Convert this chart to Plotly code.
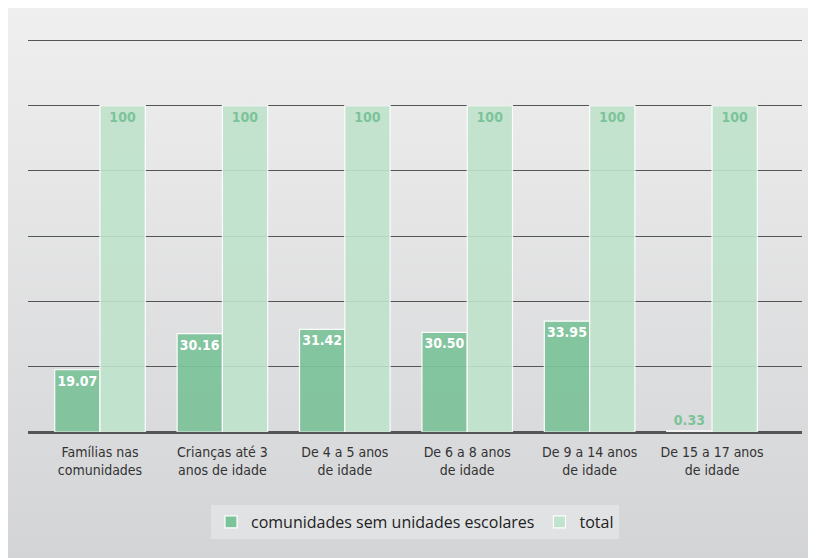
import base64
import plotly.graph_objects as go

categories = [
    "Famílias nas<br>comunidades",
    "Crianças até 3<br>anos de idade",
    "De 4 a 5 anos<br>de idade",
    "De 6 a 8 anos<br>de idade",
    "De 9 a 14 anos<br>de idade",
    "De 15 a 17 anos<br>de idade",
]
sem_escolas = [19.07, 30.16, 31.42, 30.50, 33.95, 0.33]
total = [100, 100, 100, 100, 100, 100]
series_names = ["comunidades sem unidades escolares", "total"]

DARK = "#7cc39a"
LIGHT = "#bfe3cc"
NUM_FONT = "DejaVu Sans Condensed, DejaVu Sans, sans-serif"
TICK_FONT = "DejaVu Sans Condensed, DejaVu Sans, sans-serif"

W, H = 816, 558
ML, MR, MT, MB = 20, 22, 29, 134
pw, ph = W - ML - MR, H - MT - MB

pos_green = ["inside" if v > 5 else "outside" for v in sem_escolas]
col_green = ["white" if v > 5 else DARK for v in sem_escolas]

num_font = dict(family=NUM_FONT, size=14, weight="bold")

fig = go.Figure()
fig.add_trace(go.Bar(
    x=categories, y=sem_escolas, name=series_names[0],
    marker=dict(color=DARK, opacity=0.92, line=dict(color="white", width=1.2)),
    texttemplate="%{y:.2f}", textposition=pos_green, insidetextanchor="end", textangle=0,
    textfont=dict(num_font, color=col_green),
    constraintext="none", cliponaxis=False,
))
fig.add_trace(go.Bar(
    x=categories, y=total, name=series_names[1],
    marker=dict(color=LIGHT, opacity=0.9, line=dict(color="white", width=1.2)),
    texttemplate="%{y}", textposition="inside", insidetextanchor="end", textangle=0,
    textfont=dict(num_font, color=DARK),
    constraintext="none", cliponaxis=False,
))

svg = (
    '<svg xmlns="http://www.w3.org/2000/svg" width="100" height="100" preserveAspectRatio="none">'
    '<defs><linearGradient id="g" x1="0" y1="0" x2="0" y2="1">'
    '<stop offset="0" stop-color="#efefef"/><stop offset="1" stop-color="#d3d4d6"/>'
    '</linearGradient></defs><rect width="100" height="100" fill="url(#g)"/></svg>'
)
uri = "data:image/svg+xml;base64," + base64.b64encode(svg.encode()).decode()

fig.update_layout(
    width=W, height=H,
    margin=dict(l=ML, r=MR, t=MT, b=MB),
    paper_bgcolor="#dcdcde", plot_bgcolor="rgba(0,0,0,0)",
    barmode="group", bargap=0.26, bargroupgap=0.0,
    images=[dict(source=uri, xref="paper", yref="paper",
                 x=-ML / pw, y=(H - MB) / ph,
                 sizex=W / pw, sizey=H / ph,
                 xanchor="left", yanchor="top", sizing="stretch", layer="below")],
    showlegend=True,
    legend=dict(orientation="h", x=0.5, xanchor="center", y=(424 - 514) / ph, yanchor="middle",
                bgcolor="#e1e2e4", font=dict(family="Open Sans, Lato, sans-serif", size=16, color="#222"),
                traceorder="normal", itemwidth=30),
    xaxis=dict(range=[-0.588, 5.735], showgrid=False, showline=False, ticks="",
               ticklabelstandoff=10,
               tickfont=dict(family=TICK_FONT, size=14, color="#333")),
    yaxis=dict(range=[0, 121], tickvals=[0, 20, 40, 60, 80, 100, 120], showgrid=True,
               gridcolor="#555", gridwidth=1,
               showticklabels=False, zeroline=True, zerolinecolor="#555", zerolinewidth=3,
               showline=False),
)

fig.write_html("out.html")
